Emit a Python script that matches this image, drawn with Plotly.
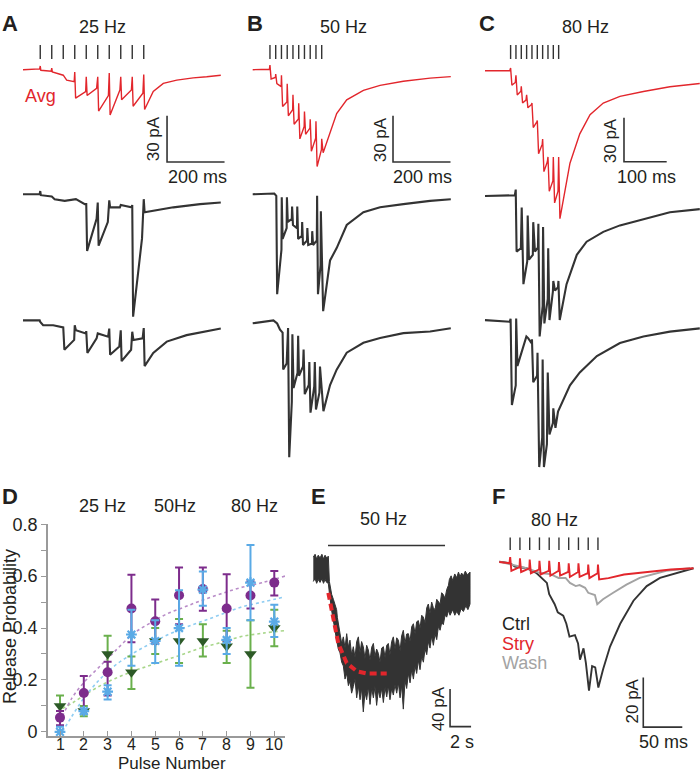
import plotly.graph_objects as go

W, H = 700, 778
FONT = "Liberation Sans, Arial, sans-serif"
INK = "#231f20"
TRACE = "#333333"
RED = "#e2262c"
GREY = "#a3a3a3"

# ---------------- panel D: release probability ----------------
pulse = [1, 2, 3, 4, 5, 6, 7, 8, 9, 10]
p25 = [0.10, 0.08, 0.30, 0.23, 0.35, 0.35, 0.35, 0.33, 0.30, 0.40]
p25_hi = [0.14, 0.10, 0.37, 0.29, 0.40, 0.435, 0.415, 0.39, 0.43, 0.47]
p25_lo = [0.06, 0.06, 0.23, 0.165, 0.30, 0.265, 0.29, 0.265, 0.17, 0.33]
p50 = [0.0, 0.08, 0.155, 0.375, 0.35, 0.40, 0.548, 0.354, 0.575, 0.425]
p50_hi = [0.02, 0.09, 0.18, 0.47, 0.43, 0.546, 0.618, 0.40, 0.72, 0.49]
p50_lo = [-0.02, 0.07, 0.125, 0.255, 0.265, 0.255, 0.486, 0.30, 0.43, 0.365]
p80 = [0.055, 0.15, 0.23, 0.475, 0.426, 0.526, 0.55, 0.475, 0.525, 0.575]
p80_hi = [0.08, 0.215, 0.27, 0.605, 0.51, 0.633, 0.633, 0.607, 0.58, 0.62]
p80_lo = [0.025, 0.08, 0.14, 0.345, 0.34, 0.415, 0.467, 0.35, 0.475, 0.525]

fit_x = [1.1, 1.5, 2.0, 2.68, 3.3, 4.08, 4.8, 5.48, 6.2, 6.88, 7.7, 8.56, 9.5, 10.45]
fit25 = [0.09, 0.11, 0.14, 0.177, 0.205, 0.234, 0.257, 0.278, 0.30, 0.322, 0.343, 0.366, 0.38, 0.39]
fit50 = [0.0, 0.06, 0.13, 0.203, 0.255, 0.303, 0.34, 0.372, 0.40, 0.423, 0.45, 0.479, 0.50, 0.52]
fit80 = [0.06, 0.13, 0.19, 0.253, 0.31, 0.378, 0.42, 0.454, 0.48, 0.504, 0.53, 0.555, 0.575, 0.60]

# ---------------- panel A: 25 Hz (t ms, I pA) ----------------
stim_a = [60, 100, 140, 180, 220, 260, 300, 340, 380, 420]
a_avg = [(0, 0), (58, 0.5), (60, 2.4), (62, -0.4), (98, -1), (100, 1), (102, -1.5), (140, -3.6),
         (152, -6.8), (178, -7.8), (180, -1.5), (183, -18.5), (218, -14.2), (220, -4.6), (223, -16.8),
         (256, -12.1), (260, -4.6), (263, -26.9), (297, -16.8), (300, -2.1), (303, -29.5), (337, -13.2),
         (340, -4.6), (343, -19.6), (377, -13.2), (380, -4.6), (383, -23.8), (417, -15.3), (420, -3.2),
         (423, -25.9), (453, -14.2), (488, -8.9), (535, -6.8), (592, -5.3), (639, -4.6), (688, -3.6)]
a_cell1 = [(0, 0), (58, 0), (60, 2.1), (62, -0.6), (100, -1.5), (110, -3.2), (145, -4.3), (184, -3.2),
           (215, -6.4), (220, -6.4), (223, -36.8), (256, -15.9), (260, -5.4), (263, -33.4), (295, -18.1),
           (300, -4), (303, -8.5), (337, -8.5), (340, -7), (377, -8.5), (380, -7), (383, -79.6),
           (414, -28.7), (420, -3.2), (423, -11.7), (453, -10.6), (523, -8.5), (616, -6.4), (688, -5.4)]
a_cell2 = [(0, 0), (58, 0), (60, -1), (70, -3.2), (105, -3.2), (140, -4.6), (144, -19.1), (178, -12.7),
           (180, -3.2), (184, -6.4), (218, -8.5), (220, -7), (224, -21.2), (256, -11.7), (260, -8.5),
           (296, -10.6), (300, -5.3), (303, -22.3), (335, -17), (340, -6.4), (343, -26.5), (376, -19.1),
           (380, -7.4), (384, -12.7), (416, -11.7), (420, -5), (423, -29.7), (453, -21.2), (500, -13.8),
           (569, -9.6), (688, -5.3)]

# ---------------- panel B: 50 Hz ----------------
stim_b = [60, 80, 100, 120, 140, 160, 180, 200, 220, 240]
b_avg = [(0, 0), (58, 0.3), (60, 3), (64, -6), (79, -5), (80, -2.8), (84, -9), (99, -11), (100, -3.6),
         (104, -24), (119, -21), (120, -9.2), (124, -30), (139, -26), (140, -16.3), (144, -35.5),
         (159, -32), (160, -21.8), (164, -45), (179, -37), (180, -27.2), (184, -42), (199, -38),
         (200, -32.3), (204, -53), (219, -44.5), (220, -33.6), (224, -63), (239, -52), (240, -45),
         (245, -54), (269, -41), (292, -28.5), (327, -19.6), (385, -13.4), (443, -10.2), (524, -7.5),
         (617, -5.5), (689, -4.5)]
b_cell1 = [(0, 0), (75, 0.5), (82, -1), (85, -65), (100, -36), (101, -2), (104, -29), (118, -22),
           (119, -2), (122, -18), (136, -16), (137, -8), (140, -20), (154, -22), (155, -8), (158, -29),
           (171, -27), (172, -18), (175, -33), (189, -30), (190, -22), (193, -33), (206, -32), (207, -24),
           (210, -33), (223, -30), (224, -1), (227, -65), (236, -46), (237, -11), (245, -76), (269, -43),
           (292, -35), (327, -20), (385, -11.7), (443, -8.5), (524, -6.4), (617, -4.3), (689, -3.2)]
b_cell2 = [(0, -1.9), (72, 0), (85, -2), (95, -6), (104, -8), (106, -32), (118, -28), (123, -5),
           (127, -89), (136, -53), (138, -9), (142, -44), (156, -34), (158, -10), (161, -36), (175, -30),
           (177, -19), (181, -48), (195, -42), (197, -27), (201, -60), (214, -43), (216, -27), (220, -58),
           (232, -47), (234, -30), (246, -59), (269, -42), (292, -32), (327, -21), (385, -14.6),
           (443, -11.5), (524, -8.3), (617, -7.2), (689, -5.1)]

# ---------------- panel C: 80 Hz ----------------
stim_c = [60, 72.5, 85, 97.5, 110, 122.5, 135, 147.5, 160, 172.5]
c_avg = [(0, 0), (58, 0), (60, 1.8), (63, -9.8), (71, -8), (72.5, -3.1), (75.5, -16.5), (84, -14),
         (85, -10.7), (88, -22), (96, -20), (97.5, -16.5), (100.5, -25.3), (109, -23), (110, -22),
         (113, -38.7), (121, -35), (122.5, -34), (125.5, -56.5), (134, -50), (135, -46.5), (138, -68.7),
         (146, -62), (147.5, -58.7), (150.5, -82), (159, -75), (160, -58.7), (163, -90), (171, -82),
         (172.5, -58.7), (175.5, -100.7), (199, -63), (222, -43), (246, -30), (277, -22), (316, -17.5),
         (371, -14.2), (433, -10.9), (503, -8.7)]
c_cell1 = [(0, 0), (60, 0), (70, 0.5), (72, 4.4), (74, -37.8), (84, -35.6), (86, -7.8), (90, -60),
           (99, -44.4), (100, -13.3), (103, -43.3), (112, -40), (113, -17.8), (117, -37.8), (124, -35),
           (125, -18.9), (128, -95.6), (135, -75), (136, -21.1), (139, -86.7), (147, -70), (148, -35.6),
           (151, -84.4), (159, -65), (160, -57.8), (164, -64.4), (171, -62), (172, -57.8), (175, -84.4),
           (191, -60), (215, -40), (238, -31.1), (277, -24.4), (316, -20), (371, -15.6), (433, -11.1),
           (503, -8.9)]
c_cell2 = [(0, 0), (58, -1.1), (60, 1), (63, -57.8), (72, -44.4), (73, 1.1), (76, -31.1), (84, -24),
           (88, -20), (97, -11.1), (101, -12.2), (109, -15.6), (110, -13), (113, -42.2), (122, -37.8),
           (123, -22.2), (127, -100), (134, -80), (135, -26.7), (138, -100), (145, -84.4), (147, -35.6),
           (151, -77.8), (159, -70), (160, -60), (165, -73.3), (171, -62.2), (199, -44.4), (222, -35.6),
           (262, -24.4), (316, -15.6), (371, -11.1), (433, -7.8), (503, -5.6)]

# ---------------- panel E: 50 Hz long train (t s, I pA) ----------------
e_stim = [1.43, 12.57]
e_upper = [(0.03, 12), (0.2, 15), (0.35, 10), (0.5, 14), (0.67, 11), (0.85, 15), (1.0, 10), (1.15, 14),
           (1.3, 11), (1.46, 13), (1.56, -13.9), (1.78, -27.8), (1.94, -33), (2.10, -38.3),
           (2.25, -44), (2.32, -52.2), (2.45, -60), (2.57, -69.6), (2.73, -80), (2.89, -73), (3.05, -85),
           (3.21, -69.6), (3.37, -84), (3.52, -76.5), (3.68, -92), (3.84, -83.5), (4.0, -95),
           (4.16, -78), (4.32, -73), (4.48, -90), (4.63, -78), (4.79, -83.5), (4.95, -96), (5.11, -82),
           (5.27, -87), (5.43, -98), (5.59, -84), (5.75, -80), (5.9, -94), (6.06, -86), (6.22, -90.5),
           (6.38, -100), (6.54, -85), (6.7, -83.5), (6.86, -95), (7.02, -82), (7.17, -80), (7.33, -92),
           (7.49, -78), (7.65, -73), (7.81, -86), (7.97, -74), (8.13, -76.5), (8.29, -88), (8.44, -72),
           (8.6, -66), (8.76, -80), (8.92, -70), (9.08, -69.6), (9.24, -78), (9.4, -62), (9.56, -59),
           (9.72, -70), (9.87, -57), (10.03, -55.7), (10.19, -64), (10.35, -50), (10.51, -52),
           (10.67, -58), (10.83, -42), (10.98, -38), (11.14, -48), (11.3, -36), (11.46, -42),
           (11.62, -44), (11.78, -33), (11.94, -35), (12.1, -38), (12.25, -26), (12.41, -28),
           (12.57, -32), (12.73, -22.6), (12.9, -18), (12.98, -12), (13.15, -8), (13.3, -13),
           (13.5, -6), (13.68, -10), (13.85, -4), (14.0, -9), (14.15, -5), (14.32, -8), (14.5, -3),
           (14.7, -7), (14.95, -4)]
e_lower = [(0.03, -14), (0.2, -11), (0.35, -16), (0.5, -12), (0.67, -15), (0.85, -11), (1.0, -16),
           (1.15, -12), (1.3, -15), (1.46, -16), (1.56, -26.1), (1.78, -45.2), (1.94, -59.2),
           (2.10, -66), (2.25, -76.5), (2.41, -86), (2.57, -90), (2.73, -100), (2.89, -104),
           (3.05, -118), (3.21, -112), (3.37, -125), (3.52, -120), (3.68, -133), (3.84, -126),
           (4.0, -118), (4.16, -138), (4.32, -125), (4.48, -140), (4.63, -128), (4.79, -153),
           (4.95, -132), (5.11, -140), (5.27, -126), (5.43, -145), (5.59, -128), (5.75, -138),
           (5.9, -126), (6.06, -146), (6.22, -130), (6.38, -138), (6.54, -128), (6.7, -143),
           (6.86, -127), (7.02, -137), (7.17, -125), (7.33, -140), (7.49, -128), (7.65, -135),
           (7.81, -124), (7.97, -133), (8.13, -122), (8.29, -138), (8.44, -125), (8.6, -150),
           (8.76, -120), (8.92, -128), (9.08, -112), (9.24, -122), (9.4, -108), (9.56, -118),
           (9.72, -104), (9.87, -112), (10.03, -98), (10.19, -108), (10.35, -94), (10.51, -100),
           (10.67, -86), (10.83, -92), (10.98, -78), (11.14, -85), (11.3, -72), (11.46, -82),
           (11.62, -70), (11.78, -76), (11.94, -62), (12.1, -66), (12.25, -58), (12.41, -60),
           (12.57, -50), (12.73, -52), (12.9, -45), (13.05, -50), (13.3, -44), (13.5, -50),
           (13.68, -46), (13.9, -50), (14.1, -43), (14.32, -46), (14.55, -40), (14.75, -44),
           (14.95, -38)]
e_fit = [(1.46, -26.1), (1.93, -55.6), (2.41, -80.1), (3.21, -100.9), (4.16, -109.6), (5.11, -112),
         (7.02, -112)]

# ---------------- panel F: strychnine (t ms, I pA) ----------------
stim_f = [14, 26.5, 39, 51.5, 64, 76.5, 89, 101.5, 114, 126.5]
f_ctrl = [(0, 0.7), (14, 0), (20, -1.3), (35, -2), (48, -4), (56, -6.6), (61, -7.9), (64, -12.5),
          (71, -16.5), (75, -19.8), (82, -21.1), (86, -24.4), (90, -29.6), (97, -29), (101, -32.3),
          (103.5, -38.9), (108, -34.3), (111, -40.2), (115, -51.4), (119, -41.5), (123, -42),
          (127, -50.1), (133, -42.8), (142, -33.6), (155, -24.4), (172, -15.1), (189, -9.2),
          (206, -5.9), (227, -4), (244, -2.6), (249, -2)]
f_stry = [(0, 0.5), (13, 0), (14, 2.5), (15.5, -3), (26, -1.5), (26.5, 2), (28, -3.5), (38.5, -2),
          (39, 1.5), (40.5, -4), (51, -2.5), (51.5, 1), (53, -4.5), (63.5, -3), (64, 1), (65.5, -5),
          (76, -3), (76.5, 0.5), (78, -5), (88.5, -3.5), (89, 0), (90.5, -5.5), (101, -3.5),
          (101.5, 0), (103, -5.5), (113.5, -4), (114, -0.5), (115.5, -6), (126, -4), (126.5, -0.5),
          (128, -6.5), (140, -6), (160, -4.5), (190, -3.5), (220, -2.5), (249, -2)]
f_wash = [(0, 0.7), (35, -2), (52, -3.9), (65, -4.3), (76, -5.9), (85, -5.9), (90.6, -7.9),
          (98, -9.2), (103, -8.8), (110, -9.9), (114, -11.9), (122.6, -12.8), (125.6, -16.5),
          (133, -14.5), (146, -11.9), (163, -8.6), (180, -5.9), (197, -4.3), (214, -3), (244.5, -2)]


def px(x):
    return x / W


def py(y):
    return 1 - y / H


fig = go.Figure()


def trace(pts, ax, off=0.0, color=TRACE, width=1.8, dash=None):
    fig.add_trace(go.Scatter(
        x=[p[0] for p in pts], y=[p[1] + off for p in pts], mode="lines",
        line=dict(color=color, width=width, dash=dash),
        xaxis="x" + ax, yaxis="y" + ax, showlegend=False, hoverinfo="skip"))


def ticks(times, ax, level, size=10):
    fig.add_trace(go.Scatter(
        x=times, y=[level] * len(times), mode="markers",
        marker=dict(symbol="line-ns", size=size, line=dict(color=TRACE, width=1.4)),
        xaxis="x" + ax, yaxis="y" + ax, showlegend=False, hoverinfo="skip"))


def scalebar(ax, t0, i0, dt, di):
    fig.add_trace(go.Scatter(
        x=[t0, t0, t0 + dt], y=[i0 + di, i0, i0], mode="lines",
        line=dict(color=TRACE, width=1.6),
        xaxis="x" + ax, yaxis="y" + ax, showlegend=False, hoverinfo="skip"))


# --- A / B / C columns
for ax, avg, c1, c2, stims, offs, lvl in [
        ("2", a_avg, a_cell1, a_cell2, stim_a, (-81, -163), 11.5),
        ("3", b_avg, b_cell1, b_cell2, stim_b, (-81, -163), 11.5),
        ("4", c_avg, c_cell1, c_cell2, stim_c, (-85.3, -169.8), 12.7)]:
    ticks(stims, ax, lvl)
    trace(avg, ax, 0, RED, 1.4)
    trace(c1, ax, offs[0], TRACE, 2.1)
    trace(c2, ax, offs[1], TRACE, 2.1)

scalebar("2", 501, -60, 200, 30)
scalebar("3", 488, -60, 200, 30)
scalebar("4", 325.5, -62, 100, 30)

# --- E
fig.add_trace(go.Scatter(
    x=[p[0] for p in e_upper] + [p[0] for p in e_lower[::-1]],
    y=[p[1] for p in e_upper] + [p[1] for p in e_lower[::-1]],
    mode="lines", fill="toself", fillcolor=TRACE, line=dict(color=TRACE, width=1),
    xaxis="x5", yaxis="y5", showlegend=False, hoverinfo="skip"))
trace(e_fit, "5", 0, RED, 4, "7px,4px")
fig.add_trace(go.Scatter(x=e_stim, y=[24.3, 24.3], mode="lines", line=dict(color=TRACE, width=1.6),
                         xaxis="x5", yaxis="y5", showlegend=False, hoverinfo="skip"))
scalebar("5", 13.05, -168.7, 2, 40)

# --- F
ticks(stim_f, "6", 7.9, 9)
trace(f_ctrl, "6", 0, TRACE, 1.9)
trace(f_wash, "6", 0, GREY, 1.9)
trace(f_stry, "6", 0, RED, 1.9)
scalebar("6", 184.6, -66.1, 50, 20)

# --- D
GREEN_BAR, GREEN_MK = "#6ab04c", "#2d5a27"
BLUE, PURPLE = "#5aaae6", "#7d2c8c"
for fy, col in [(fit25, "#a8d68a"), (fit50, "#8fcdf2"), (fit80, "#b98cc8")]:
    fig.add_trace(go.Scatter(x=fit_x, y=fy, mode="lines", line=dict(color=col, width=1.6, dash="dot",
                                                                      shape="spline"),
                             showlegend=False, hoverinfo="skip"))


def errs(v, hi, lo, color):
    return dict(type="data", symmetric=False, array=[h - m for h, m in zip(hi, v)],
                arrayminus=[m - l for m, l in zip(v, lo)], thickness=2, width=4, color=color)


fig.add_trace(go.Scatter(x=pulse, y=p25, mode="markers", error_y=errs(p25, p25_hi, p25_lo, GREEN_BAR),
                         marker=dict(symbol="triangle-down", size=11, color=GREEN_MK),
                         showlegend=False, cliponaxis=False))
fig.add_trace(go.Scatter(x=pulse, y=p80, mode="markers", error_y=errs(p80, p80_hi, p80_lo, PURPLE),
                         marker=dict(symbol="circle", size=10, color=PURPLE),
                         showlegend=False, cliponaxis=False))
fig.add_trace(go.Scatter(x=pulse, y=p50, mode="markers", error_y=errs(p50, p50_hi, p50_lo, BLUE),
                         marker=dict(symbol="asterisk", size=9, color=BLUE, line=dict(color=BLUE, width=2.2)),
                         showlegend=False, cliponaxis=False))
# legend keys
fig.add_trace(go.Scatter(x=[1.336], y=[0.838], mode="markers", cliponaxis=False, showlegend=False,
                         marker=dict(symbol="triangle-down", size=10, color="#6abf4b")))
fig.add_trace(go.Scatter(x=[4.49], y=[0.834], mode="markers", cliponaxis=False, showlegend=False,
                         marker=dict(symbol="asterisk", size=8, color=BLUE, line=dict(color=BLUE, width=2))))
fig.add_trace(go.Scatter(x=[7.68], y=[0.838], mode="markers", cliponaxis=False, showlegend=False,
                         marker=dict(symbol="circle", size=10, color=PURPLE)))

hidden = dict(visible=False, fixedrange=True)
fig.update_layout(
    width=W, height=H, margin=dict(l=0, r=0, t=0, b=0),
    paper_bgcolor="white", plot_bgcolor="rgba(0,0,0,0)",
    font=dict(family=FONT, color=INK, size=16),
    xaxis=dict(domain=[px(48), px(285)], range=[0.496, 10.45], showline=True, linecolor="#9a9a9a",
               linewidth=1.6, showgrid=False, zeroline=False, ticks="inside", ticklen=5,
               tickcolor="#9a9a9a", tickvals=pulse, showticklabels=False, anchor="y"),
    yaxis=dict(domain=[py(741), py(525)], range=[-0.015, 0.8], showline=True, linecolor="#9a9a9a",
               linewidth=1.6, showgrid=False, zeroline=False, ticks="outside", ticklen=5,
               tickcolor="#9a9a9a", tickvals=[0, 0.1, 0.2, 0.3, 0.4, 0.5, 0.6, 0.7, 0.8],
               ticktext=["0", "", "0.2", "", "0.4", "", "0.6", "", "0.8"], tickfont=dict(size=18),
               anchor="x"),
    xaxis2=dict(domain=[px(0), px(230)], range=[-80, 720], anchor="y2", **hidden),
    yaxis2=dict(domain=[py(500), py(30)], range=[-279.6, 19.7], anchor="x2", **hidden),
    xaxis3=dict(domain=[px(230), px(470)], range=[-79, 755.8], anchor="y3", **hidden),
    yaxis3=dict(domain=[py(500), py(30)], range=[-279.6, 19.7], anchor="x3", **hidden),
    xaxis4=dict(domain=[px(470), px(700)], range=[-35.1, 503.5], anchor="y4", **hidden),
    yaxis4=dict(domain=[py(500), py(30)], range=[-292, 21.3], anchor="x4", **hidden),
    xaxis5=dict(domain=[px(305), px(480)], range=[-0.76, 15.9], anchor="y5", **hidden),
    yaxis5=dict(domain=[py(778), py(530)], range=[-217, 41.8], anchor="x5", **hidden),
    xaxis6=dict(domain=[px(480), px(700)], range=[-24.7, 257.3], anchor="y6", **hidden),
    yaxis6=dict(domain=[py(778), py(530)], range=[-84.2, 13.8], anchor="x6", **hidden),
)

# pulse-number tick labels, placed under the axis in data x
for n in pulse:
    fig.add_annotation(text=str(n), x=n, y=py(750), xref="x", yref="paper", showarrow=False,
                       yanchor="middle", font=dict(family=FONT, size=16, color=INK))


def label(text, x, y, size=18, color=INK, bold=False, angle=0, xanchor="center"):
    if bold:
        text = "<b>" + text + "</b>"
    fig.add_annotation(text=text, x=px(x), y=py(y), xref="paper", yref="paper", showarrow=False,
                       xanchor=xanchor, yanchor="middle", textangle=angle,
                       font=dict(family=FONT, size=size, color=color))


for t, x, y in [("A", 10, 14), ("B", 255, 14), ("C", 487, 14), ("D", 10, 497), ("E", 318, 497),
                ("F", 498, 497)]:
    label(t, x, y, 22, INK, True)

label("25 Hz", 102, 17)
label("50 Hz", 343, 17)
label("80 Hz", 585, 17)
label("Avg", 40, 88, 18, RED)
label("30 pA", 153, 132, 17, angle=-90)
label("200 ms", 197, 170)
label("30 pA", 380, 132, 17, angle=-90)
label("200 ms", 422, 170)
label("30 pA", 610, 134, 17, angle=-90)
label("100 ms", 646, 170)

label("25 Hz", 77, 506, 18, xanchor="left")
label("50Hz", 152, 506, 18, xanchor="left")
label("80 Hz", 229, 506, 18, xanchor="left")
label("Release Probability", 10, 630, 18, angle=-90)
label("Pulse Number", 172, 769, 17)

label("50 Hz", 383, 520)
label("40 pA", 438, 713, 17, angle=-90)
label("2 s", 462, 747)

label("80 Hz", 554, 521)
label("Ctrl", 500, 627, 18, INK, xanchor="left")
label("Stry", 500, 647, 18, RED, xanchor="left")
label("Wash", 500, 667, 18, GREY, xanchor="left")
label("20 pA", 632, 706, 17, angle=-90)
label("50 ms", 663, 747)

fig.write_html("out.html", config={"displayModeBar": False},
               post_script="document.body.style.margin='0';")
